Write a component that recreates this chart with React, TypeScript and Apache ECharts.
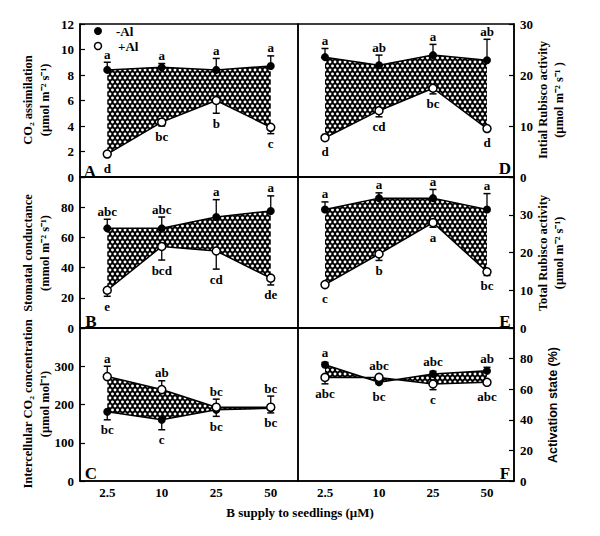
import React, { useEffect, useRef } from 'react';
import * as echarts from 'echarts';

const categories = ['2.5', '10', '25', '50'];

// Panel A: CO2 assimilation
const aMinusAl = [8.4, 8.6, 8.4, 8.7];
const aMinusAlErr = [9.0, 8.9, 9.3, 9.5];
const aMinusAlLetters = ['a', 'a', 'a', 'a'];
const aPlusAl = [1.8, 4.3, 6.0, 3.9];
const aPlusAlErr = [1.6, 4.0, 5.0, 3.4];
const aPlusAlLetters = ['d', 'bc', 'b', 'c'];

// Panel B: Stomatal conductance
const bMinusAl = [66, 66, 73.5, 77.5];
const bMinusAlErr = [72, 73.5, 85, 87.5];
const bMinusAlLetters = ['abc', 'abc', 'a', 'a'];
const bPlusAl = [25, 54, 51, 33];
const bPlusAlErr = [21, 45, 39, 28.5];
const bPlusAlLetters = ['e', 'bcd', 'cd', 'de'];

// Panel C: Intercellular CO2 concentration
const cMinusAl = [181, 160, 186, 190];
const cMinusAlErr = [160, 134, 169, 178];
const cMinusAlLetters = ['bc', 'c', 'bc', 'bc'];
const cPlusAl = [273, 239, 193, 193];
const cPlusAlErr = [300, 262, 214, 222];
const cPlusAlLetters = ['a', 'ab', 'bc', 'bc'];

// Panel D: Initial Rubisco activity
const dMinusAl = [23.5, 21.9, 23.9, 22.9];
const dMinusAlErr = [25.2, 23.9, 26.0, 27.0];
const dMinusAlLetters = ['a', 'ab', 'a', 'ab'];
const dPlusAl = [7.7, 13.0, 17.4, 9.5];
const dPlusAlErr = [7.3, 11.8, 16.3, 9.1];
const dPlusAlLetters = ['d', 'cd', 'bc', 'd'];

// Panel E: Total Rubisco activity
const eMinusAl = [31.4, 34.4, 34.4, 31.4];
const eMinusAlErr = [33.4, 35.8, 36.7, 35.6];
const eMinusAlLetters = ['a', 'a', 'a', 'a'];
const ePlusAl = [11.5, 19.6, 27.9, 14.9];
const ePlusAlErr = [11.2, 17.9, 26.7, 13.9];
const ePlusAlLetters = ['c', 'b', 'a', 'bc'];

// Panel F: Activation state
const fMinusAl = [76, 64.5, 70, 72];
const fMinusAlErr = [77.5, 63.5, 71.7, 74.3];
const fMinusAlLetters = ['a', 'bc', 'abc', 'ab'];
const fPlusAl = [67.7, 67.7, 63.4, 64.5];
const fPlusAlErr = [63.5, 68.5, 59.7, 63.2];
const fPlusAlLetters = ['abc', 'abc', 'c', 'abc'];

const SERIF = "'Liberation Serif', 'Times New Roman', serif";
const SANS = "'Liberation Sans', Arial, sans-serif";

type Panel = {
  left: number; top: number; width: number; height: number;
  side: 'left' | 'right'; min: number; max: number; interval: number; hideTop: boolean; bottom: boolean;
  minus: number[]; minusErr: number[]; minusLetters: string[];
  plus: number[]; plusErr: number[]; plusLetters: string[];
  tag: string; tagX: number; tagY: number;
};

const LX = 80, LW = 218, RX = 298, RW = 216;
const rows = [24, 177, 328, 481];

const panels: Panel[] = [
  { left: LX, top: rows[0], width: LW, height: rows[1] - rows[0], side: 'left', min: 0, max: 12, interval: 2, hideTop: false, bottom: false,
    minus: aMinusAl, minusErr: aMinusAlErr, minusLetters: aMinusAlLetters, plus: aPlusAl, plusErr: aPlusAlErr, plusLetters: aPlusAlLetters, tag: 'A', tagX: 90, tagY: 171 },
  { left: LX, top: rows[1], width: LW, height: rows[2] - rows[1], side: 'left', min: 0, max: 100, interval: 20, hideTop: true, bottom: false,
    minus: bMinusAl, minusErr: bMinusAlErr, minusLetters: bMinusAlLetters, plus: bPlusAl, plusErr: bPlusAlErr, plusLetters: bPlusAlLetters, tag: 'B', tagX: 91, tagY: 321 },
  { left: LX, top: rows[2], width: LW, height: rows[3] - rows[2], side: 'left', min: 0, max: 400, interval: 100, hideTop: true, bottom: true,
    minus: cMinusAl, minusErr: cMinusAlErr, minusLetters: cMinusAlLetters, plus: cPlusAl, plusErr: cPlusAlErr, plusLetters: cPlusAlLetters, tag: 'C', tagX: 91, tagY: 473 },
  { left: RX, top: rows[0], width: RW, height: rows[1] - rows[0], side: 'right', min: 0, max: 30, interval: 10, hideTop: false, bottom: false,
    minus: dMinusAl, minusErr: dMinusAlErr, minusLetters: dMinusAlLetters, plus: dPlusAl, plusErr: dPlusAlErr, plusLetters: dPlusAlLetters, tag: 'D', tagX: 505, tagY: 168 },
  { left: RX, top: rows[1], width: RW, height: rows[2] - rows[1], side: 'right', min: 0, max: 40, interval: 10, hideTop: true, bottom: false,
    minus: eMinusAl, minusErr: eMinusAlErr, minusLetters: eMinusAlLetters, plus: ePlusAl, plusErr: ePlusAlErr, plusLetters: ePlusAlLetters, tag: 'E', tagX: 505, tagY: 321 },
  { left: RX, top: rows[2], width: RW, height: rows[3] - rows[2], side: 'right', min: 0, max: 100, interval: 20, hideTop: true, bottom: true,
    minus: fMinusAl, minusErr: fMinusAlErr, minusLetters: fMinusAlLetters, plus: fPlusAl, plusErr: fPlusAlErr, plusLetters: fPlusAlLetters, tag: 'F', tagX: 505, tagY: 473 },
];

const tileSvg =
  '<svg xmlns="http://www.w3.org/2000/svg" width="5" height="8">' +
  '<rect width="5" height="8" fill="#000"/>' +
  '<circle cx="2.5" cy="2" r="1.45" fill="#fff"/>' +
  '<circle cx="0" cy="6" r="1.45" fill="#fff"/>' +
  '<circle cx="5" cy="6" r="1.45" fill="#fff"/>' +
  '</svg>';
const pattern = {
  image: 'data:image/svg+xml;charset=utf-8,' + encodeURIComponent(tileSvg),
  repeat: 'repeat',
  imageWidth: 5,
  imageHeight: 8,
};

function buildOption() {
  const grid: any[] = [];
  const xAxis: any[] = [];
  const yAxis: any[] = [];
  const series: any[] = [];

  panels.forEach((p, i) => {
    grid.push({ left: p.left, top: p.top, width: p.width, height: p.height, show: true, borderColor: '#000', borderWidth: 1.5, backgroundColor: 'transparent' });
    xAxis.push({
      type: 'category', gridIndex: i, data: categories,
      axisLine: { lineStyle: { color: '#000', width: 1.5 } },
      axisTick: { inside: true, alignWithLabel: true, length: 5, lineStyle: { color: '#000', width: 1.2 } },
      axisLabel: { show: p.bottom, margin: 5, color: '#000', fontFamily: SERIF, fontWeight: 'bold', fontSize: 13, lineHeight: 13 },
    });
    yAxis.push({
      type: 'value', gridIndex: i, position: p.side, min: p.min, max: p.max, interval: p.interval,
      splitLine: { show: false },
      axisLine: { show: true, lineStyle: { color: '#000', width: 1.5 } },
      axisTick: { show: true, inside: true, length: 5, lineStyle: { color: '#000', width: 1.2 } },
      axisLabel: {
        margin: 6, color: '#000', fontFamily: SERIF, fontWeight: 'bold', fontSize: 13,
        formatter: (v: number) => (p.hideTop && v === p.max ? '' : String(v)),
      },
    });

    // hatched area between the two treatments
    series.push({
      type: 'custom', xAxisIndex: i, yAxisIndex: i, silent: true, z: 1,
      data: [[0, p.minus[0]]],
      renderItem: (_params: any, api: any) => {
        const pts: number[][] = [];
        p.minus.forEach((v, k) => pts.push(api.coord([k, v])));
        for (let k = p.plus.length - 1; k >= 0; k--) pts.push(api.coord([k, p.plus[k]]));
        return { type: 'polygon', shape: { points: pts }, style: { fill: pattern as any, stroke: null } };
      },
    });

    // error bars + significance letters
    const ebData: any[] = [];
    p.minus.forEach((v, k) => ebData.push([k, v, p.minusErr[k], p.minusLetters[k]]));
    p.plus.forEach((v, k) => ebData.push([k, v, p.plusErr[k], p.plusLetters[k]]));
    series.push({
      type: 'custom', xAxisIndex: i, yAxisIndex: i, silent: true, z: 3,
      data: ebData,
      renderItem: (params: any, api: any) => {
        const d = ebData[params.dataIndex];
        const m = api.coord([d[0], d[1]]);
        const e = api.coord([d[0], d[2]]);
        const up = d[2] >= d[1];
        const ty = up ? Math.min(e[1], m[1] - 4) - 8 : Math.max(e[1], m[1] + 4) + 10;
        return {
          type: 'group',
          children: [
            { type: 'line', shape: { x1: m[0], y1: m[1], x2: e[0], y2: e[1] }, style: { stroke: '#000', lineWidth: 1.3 } },
            { type: 'line', shape: { x1: e[0] - 3.5, y1: e[1], x2: e[0] + 3.5, y2: e[1] }, style: { stroke: '#000', lineWidth: 1.5 } },
            { type: 'text', x: m[0], y: ty, style: { text: d[3], align: 'center', verticalAlign: 'middle', fill: '#000', font: `bold 13px ${SERIF}` } },
          ],
        };
      },
    });

    series.push({
      type: 'line', name: '-Al', xAxisIndex: i, yAxisIndex: i, data: p.minus, z: 5,
      symbol: 'circle', symbolSize: 8,
      itemStyle: { color: '#000' }, lineStyle: { color: '#000', width: 1.5 },
    });
    series.push({
      type: 'line', name: '+Al', xAxisIndex: i, yAxisIndex: i, data: p.plus, z: 6,
      symbol: 'circle', symbolSize: 8,
      itemStyle: { color: '#fff', borderColor: '#000', borderWidth: 1.5 }, lineStyle: { color: '#000', width: 1.5 },
    });
  });

  const rot = Math.PI / 2;
  const nameText = (x: number, y: number, text: string, font = `bold 12.5px ${SERIF}`) => ({
    type: 'text', x, y, rotation: rot, silent: true,
    style: { text, align: 'center', verticalAlign: 'middle', fill: '#000', font },
  });

  const graphic: any[] = [
    nameText(28, 100, 'CO₂ assimilation'),
    nameText(45, 100, '(μmol m⁻² s⁻¹)'),
    nameText(28, 253, 'Stomatal conductance'),
    nameText(45, 253, '(mmol m⁻² s⁻¹)'),
    nameText(28, 404, 'Intercellular CO₂ concentration'),
    nameText(45, 404, '(μmol mol⁻¹)'),
    nameText(543, 100, 'Intial Rubisco activity'),
    nameText(559, 100, '(μmol m⁻² s⁻¹ )'),
    nameText(543, 253, 'Total Rubisco activity'),
    nameText(559, 253, '(μmol m⁻² s⁻¹)'),
    nameText(553, 405, 'Activation state (%)', `bold 12.5px ${SANS}`),
    { type: 'text', x: 300, y: 512, silent: true, style: { text: 'B supply to seedlings (μM)', align: 'center', verticalAlign: 'middle', fill: '#000', font: `bold 13px ${SERIF}` } },
    { type: 'circle', shape: { cx: 98, cy: 31, r: 4 }, style: { fill: '#000' }, silent: true },
    { type: 'text', x: 116, y: 31, silent: true, style: { text: '-Al', align: 'left', verticalAlign: 'middle', fill: '#000', font: `bold 13px ${SERIF}` } },
    { type: 'circle', shape: { cx: 98, cy: 46, r: 3.5 }, style: { fill: '#fff', stroke: '#000', lineWidth: 1.5 }, silent: true },
    { type: 'text', x: 118, y: 46, silent: true, style: { text: '+Al', align: 'left', verticalAlign: 'middle', fill: '#000', font: `bold 13px ${SERIF}` } },
  ];
  panels.forEach((p) => {
    graphic.push({ type: 'text', x: p.tagX, y: p.tagY, silent: true, style: { text: p.tag, align: 'center', verticalAlign: 'middle', fill: '#000', font: `bold 17px ${SERIF}` } });
  });

  return {
    animation: false,
    backgroundColor: '#fff',
    grid, xAxis, yAxis, series, graphic,
  };
}

export default function App() {
  const ref = useRef<HTMLDivElement>(null);
  useEffect(() => {
    if (!ref.current) return;
    const chart = echarts.init(ref.current, undefined, { renderer: 'svg' });
    chart.setOption(buildOption() as any);
    return () => chart.dispose();
  }, []);
  return <div ref={ref} style={{ position: 'absolute', left: 0, top: 0, width: 600, height: 536 }} />;
}
